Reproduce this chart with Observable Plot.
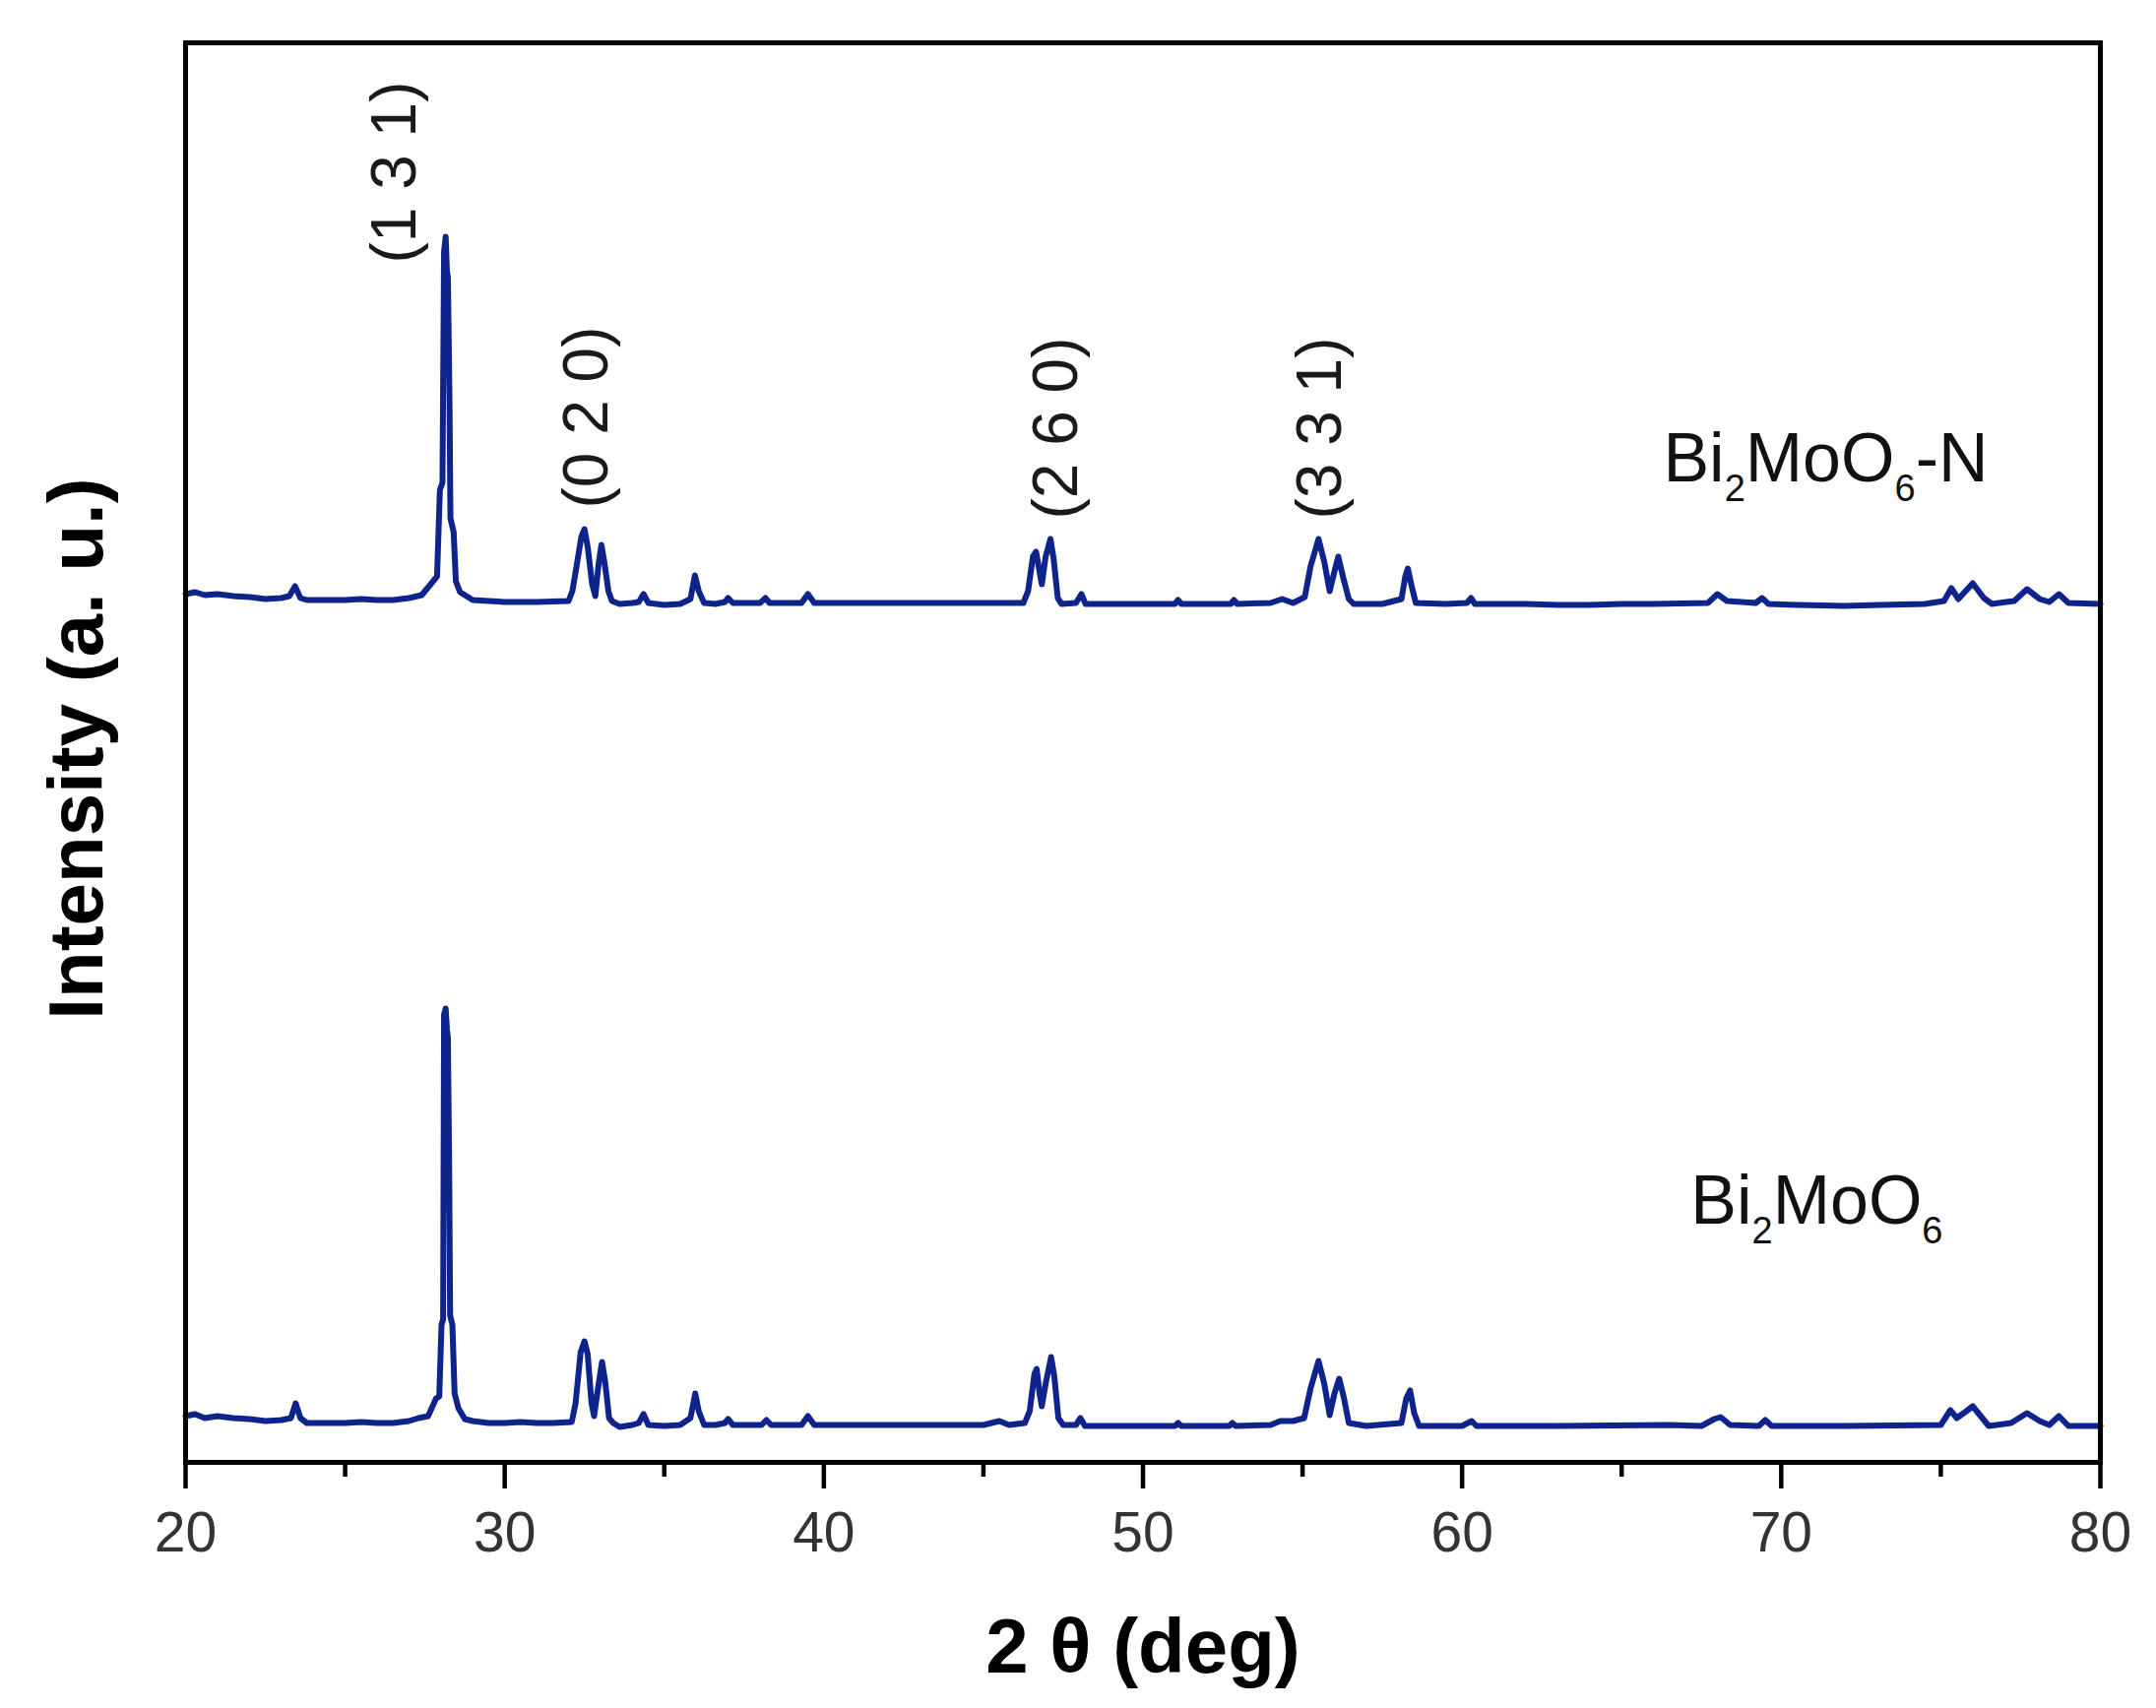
<!DOCTYPE html>
<html>
<head>
<meta charset="utf-8">
<script src="https://cdn.jsdelivr.net/npm/d3@7"></script>
<script src="https://cdn.jsdelivr.net/npm/@observablehq/plot@0.6"></script>
<style>
  html, body { margin: 0; padding: 0; background: #fff; }
  #chart { width: 2190px; height: 1735px; }
</style>
</head>
<body>
<div id="chart"></div>
<script>
// ---- Data: XRD patterns (2θ in degrees, intensity in a.u.) ----
const seriesNames = ["Bi2MoO6-N", "Bi2MoO6"];
const seriesOffsets = [830, 0];           // vertical stacking offset (a.u.)

const patternBiN = [
  [20.0,52],[20.3,54],[20.6,51],[21.0,52],[21.5,50],[22.0,49],[22.5,47],[23.0,48],[23.25,50],[23.43,60],
  [23.6,48],[23.8,46],[24.5,46],[25.0,46],[25.5,47],[26.0,46],[26.5,46],[27.0,48],[27.4,51],[27.68,62],
  [27.88,70],[27.97,158],[28.05,165],[28.1,400],[28.15,415],[28.19,380],[28.22,374],[28.27,250],[28.3,129],
  [28.4,115],[28.47,65],[28.6,54],[29.0,46],[29.5,45],[30.0,44],[31.0,44],[32.0,45],[32.12,55],[32.25,80],
  [32.4,110],[32.5,118],[32.6,100],[32.74,62],[32.84,50],[32.94,82],[33.03,102],[33.12,85],[33.25,55],[33.36,45],
  [33.6,42],[34.0,43],[34.2,44],[34.35,52],[34.5,43],[35.0,41],[35.5,42],[35.82,47],[35.96,71],[36.08,55],[36.25,43],
  [36.6,42],[36.9,44],[37.0,48],[37.15,43],[38.0,43],[38.17,48],[38.3,43],[39.3,43],[39.5,52],[39.7,43],[42.0,43],
  [46.25,43],[46.4,55],[46.55,90],[46.65,95],[46.76,75],[46.83,62],[46.95,90],[47.1,108],[47.2,88],[47.33,48],
  [47.45,42],[47.9,43],[48.07,52],[48.2,42],[50.0,42],[51.0,42],[51.1,46],[51.2,42],[52.75,42],[52.85,46],[52.95,42],
  [54.0,43],[54.36,47],[54.7,43],[55.07,49],[55.25,80],[55.5,108],[55.68,85],[55.85,55],[56.0,75],[56.12,90],
  [56.28,68],[56.45,47],[56.6,42],[57.5,42],[58.1,47],[58.22,70],[58.3,78],[58.42,60],[58.55,43],[59.5,42],
  [60.15,43],[60.28,48],[60.4,42],[62.0,42],[63.0,41],[64.0,41],[65.0,42],[66.0,42],[67.7,43],[68.0,52],
  [68.3,45],[69.2,43],[69.4,48],[69.6,42],[70.5,41],[72.0,40],[73.1,41],[74.5,42],[75.1,45],[75.33,58],
  [75.55,47],[76.0,63],[76.35,48],[76.6,42],[77.3,45],[77.7,57],[78.1,47],[78.4,44],[78.7,52],[79.0,43],[80.0,42]
];

const patternBi = [
  [20.0,47],[20.3,49],[20.6,45],[21.0,47],[21.5,45],[22.0,44],[22.5,42],[23.0,43],[23.3,45],[23.45,60],
  [23.6,45],[23.8,40],[24.5,40],[25.0,40],[25.5,41],[26.0,40],[26.5,40],[27.0,42],[27.3,45],[27.6,47],
  [27.85,65],[27.95,67],[28.02,140],[28.07,145],[28.1,455],[28.15,461],[28.19,440],[28.22,431],[28.26,300],
  [28.29,149],[28.36,140],[28.43,70],[28.55,55],[28.75,44],[29.0,42],[29.5,40],[30.0,40],[30.5,41],[31.0,40],
  [31.5,40],[32.1,41],[32.22,60],[32.38,112],[32.5,123],[32.6,110],[32.72,60],[32.8,47],[32.9,70],[33.05,102],
  [33.15,82],[33.27,45],[33.4,40],[33.6,36],[34.0,38],[34.2,40],[34.35,49],[34.5,38],[35.0,37],[35.5,38],
  [35.82,45],[35.97,70],[36.08,52],[36.25,38],[36.6,38],[36.9,40],[37.0,44],[37.15,38],[38.05,38],[38.2,43],
  [38.35,38],[39.3,38],[39.5,47],[39.7,38],[42.0,38],[45.0,38],[45.5,42],[45.8,38],[46.3,40],[46.45,52],
  [46.6,90],[46.67,95],[46.76,70],[46.83,57],[46.95,80],[47.12,107],[47.22,88],[47.35,45],[47.5,38],[47.9,38],
  [48.04,45],[48.18,37],[50.0,37],[51.0,37],[51.1,40],[51.2,37],[52.7,37],[52.8,40],[52.9,37],[54.0,38],
  [54.3,42],[54.7,42],[55.05,45],[55.25,75],[55.5,103],[55.68,80],[55.85,48],[56.0,70],[56.15,85],[56.3,65],
  [56.45,40],[57.0,37],[58.1,40],[58.25,65],[58.37,73],[58.5,50],[58.65,37],[60.0,37],[60.3,42],[60.45,37],
  [63.0,37],[66.5,38],[67.5,37],[67.9,44],[68.1,46],[68.4,38],[69.3,37],[69.5,43],[69.7,37],[72.0,37],
  [75.0,38],[75.3,53],[75.5,45],[75.8,52],[76.0,57],[76.3,45],[76.5,37],[77.2,40],[77.7,50],[78.1,42],
  [78.4,38],[78.7,47],[79.0,37],[80.0,37]
];

const patterns = [patternBiN, patternBi];

// Series labels (position in data space)
const seriesLabelTheta = [66.30, 67.16];
const seriesLabelIntensity = [997, 243];

// Miller-index annotations
const hklLabels = ["(1 3 1)", "(0 2 0)", "(2 6 0)", "(3 3 1)"];
const hklTheta = [26.57, 32.58, 47.30, 55.56];
const hklIntensity = [1218, 969, 958, 958];

// Axes
const majorTicks = [20, 30, 40, 50, 60, 70, 80];
const minorTicks = [25, 35, 45, 55, 65, 75];
const xDomain = [20, 80];
const yDomain = [0, 1442];
const xLabel = "2 θ (deg)";
const yLabel = "Intensity (a. u.)";

// ---- Build table ----
const lineData = [];
patterns.forEach((pts, k) => pts.forEach(([t, v]) =>
  lineData.push({series: seriesNames[k], theta: t, intensity: v + seriesOffsets[k]})));

const fontFamily = "'Liberation Sans', Arial, Helvetica, sans-serif";
const lineColor = "#0f238c";

const plot = Plot.plot({
  width: 2190,
  height: 1735,
  marginLeft: 188,
  marginRight: 57,
  marginTop: 43,
  marginBottom: 250,
  style: {fontFamily, background: "#fff", overflow: "visible"},
  x: {domain: xDomain},
  y: {domain: yDomain, axis: null},
  marks: [
    Plot.line(lineData, {x: "theta", y: "intensity", z: "series", stroke: lineColor, strokeWidth: 6, strokeLinejoin: "round"}),
    Plot.text(hklLabels, {x: (d, i) => hklTheta[i], y: (d, i) => hklIntensity[i], text: d => d,
      rotate: -90, textAnchor: "start", lineAnchor: "middle", fontSize: 64, fill: "#1a1a1a"}),
    Plot.text(seriesNames, {x: (d, i) => seriesLabelTheta[i], y: (d, i) => seriesLabelIntensity[i], text: d => d,
      textAnchor: "start", lineAnchor: "bottom", fontSize: 70, fill: "#111"}),
    Plot.frame({stroke: "#000", strokeWidth: 5}),
    Plot.axisX(majorTicks, {anchor: "bottom", tickSize: 27, tickPadding: 23, strokeWidth: 4.5, stroke: "#000",
      fill: "#333", fontSize: 57, label: null}),
    Plot.axisX(minorTicks, {anchor: "bottom", tickSize: 15, strokeWidth: 4.5, stroke: "#000",
      tickFormat: () => "", label: null}),
    Plot.text([xLabel], {frameAnchor: "bottom", text: d => d, lineAnchor: "bottom", dy: 213,
      fontSize: 78, fontWeight: "bold", fill: "#000"}),
    Plot.text([yLabel], {frameAnchor: "left", text: d => d, rotate: -90, textAnchor: "middle",
      lineAnchor: "bottom", dx: -85, dy: -4, fontSize: 78, fontWeight: "bold", fill: "#000"})
  ]
});

// Chemical-formula subscripts for the series labels
d3.select(plot).selectAll("text").each(function () {
  const name = this.textContent;
  if (!seriesNames.includes(name)) return;
  const el = d3.select(this);
  el.text(null);
  const tokens = name.match(/\d+|\D+/g);
  let shifted = false;
  tokens.forEach(tok => {
    const isDigit = /^\d+$/.test(tok);
    const ts = el.append("tspan").text(tok);
    if (isDigit) { ts.attr("font-size", 38).attr("dy", 20); shifted = true; }
    else if (shifted) { ts.attr("dy", -20); shifted = false; }
  });
});

document.getElementById("chart").appendChild(plot);
</script>
</body>
</html>
